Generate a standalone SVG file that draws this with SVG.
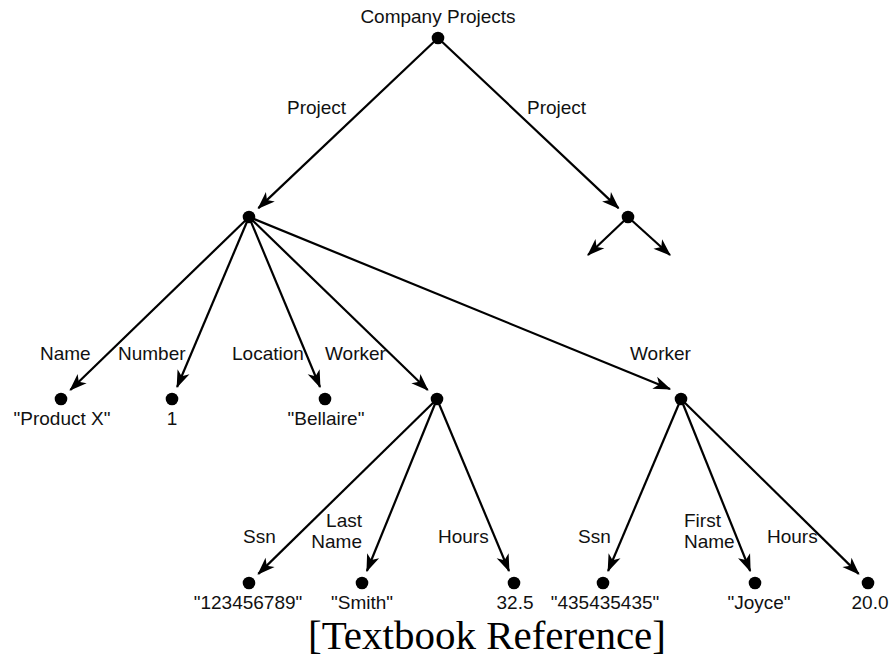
<svg xmlns="http://www.w3.org/2000/svg" width="891" height="659" viewBox="0 0 891 659">
<style>
.lbl{font-family:"Liberation Sans",Arial,sans-serif;font-size:19px;fill:#111}
.c{text-anchor:middle}
.e{stroke:#000;stroke-width:2.2;fill:none;marker-end:url(#ah)}
.dot{fill:#000}
.ref{font-family:"Liberation Serif","Times New Roman",serif;font-size:41px;fill:#000;text-anchor:middle}
</style>
<defs>
<marker id="ah" markerUnits="userSpaceOnUse" markerWidth="20" markerHeight="20" viewBox="-15 -8 17 16" refX="0" refY="0" orient="auto">
<path d="M1,0 L-14,-5.5 L-10,0 L-14,5.5 Z" fill="#000"/>
</marker>
</defs>
<rect width="891" height="659" fill="#fff"/>
<g id="connectors">
<line class="e" x1="438" y1="38" x2="258.4" y2="208.1"/>
<line class="e" x1="438" y1="38" x2="618.5" y2="208.1"/>
<line class="e" x1="628" y1="217" x2="588" y2="255"/>
<line class="e" x1="628" y1="217" x2="670" y2="255"/>
<line class="e" x1="249" y1="217" x2="70.3" y2="390"/>
<line class="e" x1="249" y1="217" x2="177.1" y2="387"/>
<line class="e" x1="249" y1="217" x2="320" y2="387"/>
<line class="e" x1="249" y1="217" x2="427.7" y2="390"/>
<line class="e" x1="249" y1="217" x2="670" y2="389"/>
<line class="e" x1="437" y1="399" x2="258.3" y2="573.9"/>
<line class="e" x1="437" y1="399" x2="366.9" y2="571"/>
<line class="e" x1="437" y1="399" x2="509" y2="571"/>
<line class="e" x1="681" y1="399" x2="608.1" y2="571"/>
<line class="e" x1="681" y1="399" x2="750.2" y2="571"/>
<line class="e" x1="681" y1="399" x2="858.7" y2="573.9"/>
</g>
<g id="edge-labels">
<text class="lbl" x="287" y="114">Project</text>
<text class="lbl" x="527" y="114">Project</text>
<text class="lbl" x="40" y="360">Name</text>
<text class="lbl" x="118" y="360">Number</text>
<text class="lbl" x="232" y="360">Location</text>
<text class="lbl" x="325" y="360">Worker</text>
<text class="lbl" x="630" y="360">Worker</text>
<text class="lbl" x="243" y="543">Ssn</text>
<text class="lbl" x="362" y="527" text-anchor="end">Last</text>
<text class="lbl" x="362" y="548" text-anchor="end">Name</text>
<text class="lbl" x="438" y="543">Hours</text>
<text class="lbl" x="578" y="543">Ssn</text>
<text class="lbl" x="684" y="527">First</text>
<text class="lbl" x="684" y="548">Name</text>
<text class="lbl" x="767" y="543">Hours</text>
</g>
<g id="node-root"><circle class="dot" cx="438" cy="38" r="6.3"/><text class="lbl c" x="438" y="23">Company Projects</text></g>
<g id="node-project1"><circle class="dot" cx="249" cy="217" r="6.3"/></g>
<g id="node-project2"><circle class="dot" cx="628" cy="217" r="6.3"/></g>
<g id="node-name"><circle class="dot" cx="61" cy="399" r="6.3"/><text class="lbl c" x="62" y="425">"Product X"</text></g>
<g id="node-number"><circle class="dot" cx="172" cy="399" r="6.3"/><text class="lbl c" x="172" y="425">1</text></g>
<g id="node-location"><circle class="dot" cx="325" cy="399" r="6.3"/><text class="lbl c" x="326" y="425">"Bellaire"</text></g>
<g id="node-worker1"><circle class="dot" cx="437" cy="399" r="6.3"/></g>
<g id="node-worker2"><circle class="dot" cx="681" cy="399" r="6.3"/></g>
<g id="node-ssn1"><circle class="dot" cx="249" cy="583" r="6.3"/><text class="lbl c" x="248" y="609">"123456789"</text></g>
<g id="node-lastname"><circle class="dot" cx="362" cy="583" r="6.3"/><text class="lbl c" x="362" y="609">"Smith"</text></g>
<g id="node-hours1"><circle class="dot" cx="514" cy="583" r="6.3"/><text class="lbl c" x="515" y="609">32.5</text></g>
<g id="node-ssn2"><circle class="dot" cx="603" cy="583" r="6.3"/><text class="lbl c" x="605" y="609">"435435435"</text></g>
<g id="node-firstname"><circle class="dot" cx="755" cy="583" r="6.3"/><text class="lbl c" x="759" y="609">"Joyce"</text></g>
<g id="node-hours2"><circle class="dot" cx="868" cy="583" r="6.3"/><text class="lbl c" x="870" y="609">20.0</text></g>
<text class="ref" x="487" y="649">[Textbook Reference]</text>
</svg>
